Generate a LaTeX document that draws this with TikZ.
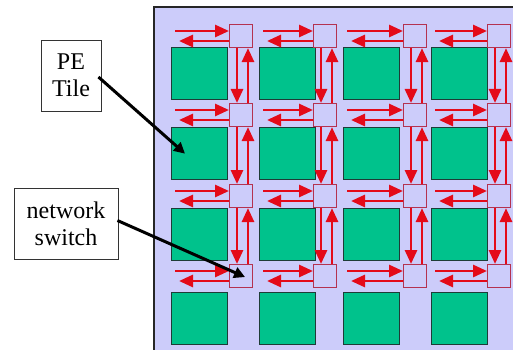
\documentclass[tikz,border=0pt]{standalone}
\usepackage{fontspec}
\setmainfont{Liberation Serif}
\usetikzlibrary{arrows.meta,calc}
\definecolor{panel}{RGB}{204,204,250}
\definecolor{tilegreen}{RGB}{0,194,140}
\definecolor{tileedge}{RGB}{30,60,55}
\definecolor{linkred}{RGB}{228,10,25}
\definecolor{swedge}{RGB}{180,50,80}
\begin{document}
\begin{tikzpicture}[x=1pt,y=-1pt,
  tile/.style={draw=tileedge,line width=1.3pt,fill=tilegreen,minimum width=56pt,minimum height=52pt,inner sep=0pt,anchor=north west},
  switchbox/.style={draw=swedge,line width=1.1pt,fill=panel,minimum width=23pt,minimum height=23pt,inner sep=0pt,anchor=north west},
  link/.style={draw=linkred,line width=2.8pt,-{Triangle[length=14pt,width=12pt]}},
  labelbox/.style={draw=black!80,line width=0.9pt,fill=white,font=\fontsize{24}{27}\selectfont,align=center,inner sep=0pt},
  leader/.style={draw=black,line width=3pt,-{Triangle[length=11pt,width=11pt]}}]
\useasboundingbox (0,0) rectangle (513,350);
\fill[panel] (154,7) rectangle (513,350);
\draw[line width=1.5pt,black!85] (154,350) -- (154,7) -- (513,7);
% tiles and switches
\foreach \r/\sy/\ty in {1/24/47,2/103/127,3/184/208,4/264/292} {
  \foreach \c/\sx/\tx in {1/229/171,2/313/259,3/403/343,4/487/431} {
    \node[tile] (t-\r-\c) at (\tx,\ty) {};
    \node[switchbox] (s-\r-\c) at (\sx,\sy) {};
    \coordinate (hin-\r-\c) at (\tx+4,\sy+7);
    \coordinate (hout-\r-\c) at (\tx+8,\sy+17);
    \draw[link] (hin-\r-\c) -- (hin-\r-\c -| s-\r-\c.west);
    \draw[link] (s-\r-\c.west |- hout-\r-\c) -- (hout-\r-\c);
  }
}
% vertical links
\foreach \r [evaluate=\r as \nr using int(\r+1)] in {1,2,3} {
  \foreach \c in {1,2,3,4} {
    \draw[link] ($(s-\r-\c.south west)+(8,0)$) -- ($(s-\nr-\c.north west)+(8,0)$);
    \draw[link] ($(s-\nr-\c.north west)+(19,0)$) -- ($(s-\r-\c.south west)+(19,0)$);
  }
}
% labels
\node[labelbox,minimum width=60pt,minimum height=71pt] (pe) at (71,75.5) {PE\\Tile};
\node[labelbox,minimum width=104pt,minimum height=71pt] (ns) at (66,223.5) {network\\switch};
\draw[leader] ($(pe.east)+(-3,1.5)$) -- ($(t-2-1.west)+(14,0)$);
\draw[leader] ($(ns.east)+(-1,-3)$) -- ($(s-4-1.center)+(4,1)$);
\end{tikzpicture}
\end{document}
